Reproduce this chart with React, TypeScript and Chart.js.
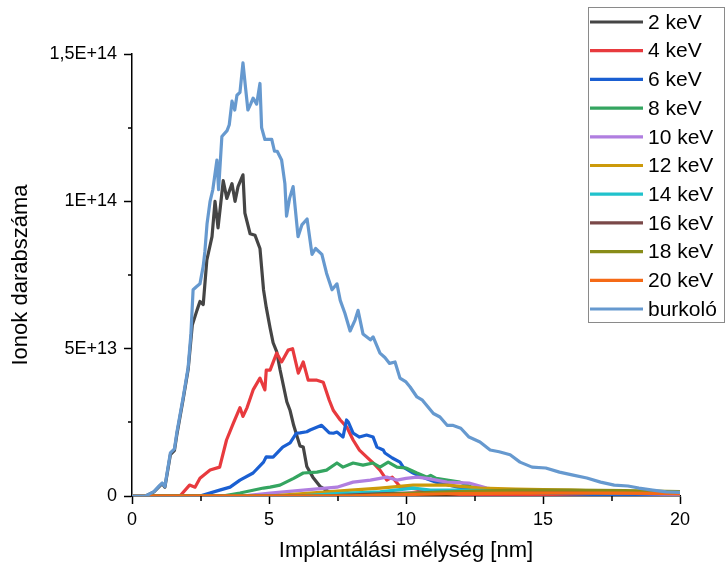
import React, { useEffect, useRef } from 'react';
import { Chart, registerables } from 'chart.js';

Chart.register(...registerables);

// ---- data (y in units of 1E+12 ions) ----
const seriesLabels = ['2 keV', '4 keV', '6 keV', '8 keV', '10 keV', '12 keV', '14 keV', '16 keV', '18 keV', '20 keV', 'burkoló'];
const seriesColors = ['#454545', '#E83A3E', '#1A5FD2', '#34A560', '#B07EE0', '#CC9A0A', '#20C2CC', '#7A4848', '#888C18', '#F56A16', '#6699CF'];

const x2 = [0, 0.5, 0.8, 1.0, 1.1, 1.2, 1.4, 1.55, 1.64, 1.87, 2.05, 2.2, 2.37, 2.48, 2.6, 2.73, 2.92, 3.03, 3.14, 3.33, 3.46, 3.65, 3.76, 3.87, 4.05, 4.12, 4.31, 4.49, 4.67, 4.8, 4.9, 5.04, 5.15, 5.28, 5.4, 5.65, 5.77, 5.9, 6.13, 6.25, 6.38, 6.6, 6.86, 7.2, 7.5, 8.0];
const y2 = [0, 0, 1.4, 3.3, 4.2, 3.0, 14, 15.5, 21, 33, 43, 58, 63, 66, 65, 80, 88, 100, 91, 107, 101, 106, 100, 105, 109, 96, 89, 88.5, 84, 70, 64, 57, 52, 49, 43, 32, 29, 24, 17, 16.6, 10, 6.4, 3.3, 1.3, 0.5, 0.2];

const x4 = [0, 1.75, 2.1, 2.3, 2.48, 2.85, 3.2, 3.45, 3.7, 3.94, 4.05, 4.2, 4.42, 4.67, 4.85, 4.9, 5.04, 5.28, 5.46, 5.7, 5.86, 6.07, 6.25, 6.43, 6.75, 6.98, 7.2, 7.35, 7.6, 7.84, 8.07, 8.3, 8.57, 8.8, 9.05, 9.3, 9.5, 9.8, 10.3, 11.0, 12.0, 14.0, 20];
const y4 = [0, 0, 3.7, 3.0, 6, 8.8, 9.8, 19, 24.7, 30, 27, 30, 36, 40, 36, 42.7, 42.7, 48.5, 45.5, 49.5, 50, 41.7, 45.5, 39.3, 39.3, 38.6, 32.5, 29, 25.8, 23.4, 19, 15.6, 13.2, 11.2, 8.8, 5.4, 6.4, 3, 2.5, 1.2, 0.5, 0.2, 0];

const x6 = [0, 2.48, 3.2, 3.58, 3.94, 4.42, 4.8, 4.9, 5.15, 5.5, 5.77, 6.0, 6.13, 6.38, 6.5, 6.92, 7.2, 7.35, 7.48, 7.7, 7.83, 7.9, 8.07, 8.3, 8.56, 8.8, 8.94, 9.17, 9.23, 9.5, 9.78, 9.9, 10.26, 10.6, 11.1, 11.9, 13.0, 15.0, 17.0, 20];
const y6 = [0, 0, 2, 3, 5.4, 7.8, 11.5, 13.3, 13.2, 16.6, 18, 21.3, 21.4, 21.8, 22.4, 24, 21.4, 21.3, 21.7, 20, 25.8, 25, 21.3, 20, 20.7, 20, 16.6, 15.6, 14.6, 12.9, 11.5, 9.8, 7.8, 6.4, 4.7, 3, 2, 1, 0.5, 0.3];

const x8 = [0, 3.3, 3.94, 4.8, 5.04, 5.4, 5.77, 5.9, 6.25, 6.75, 7.1, 7.48, 7.7, 8.07, 8.43, 8.8, 9.05, 9.35, 9.67, 10.0, 10.4, 10.77, 10.9, 11.1, 11.5, 11.97, 12.4, 13.3, 14.5, 16.0, 18.0, 20];
const y8 = [0, 0, 1, 2.7, 3, 3.7, 5.4, 6, 7.8, 8.1, 8.8, 11.2, 9.8, 11.2, 10.5, 11.2, 9.8, 11.5, 9.8, 9.5, 7.8, 6.4, 7.0, 6, 5.4, 4.7, 3, 2, 1.5, 1.2, 1, 0.8];

const x10 = [0, 4.0, 5.04, 6.25, 7.48, 8.07, 8.7, 9.3, 9.67, 10.0, 10.4, 10.77, 11.5, 12.3, 12.95, 13.4, 16.0, 18.0, 20];
const y10 = [0, 0, 1, 2, 3, 4.7, 5.4, 6.4, 5.4, 6, 6.4, 6, 4.7, 4.4, 2.7, 2, 1.5, 1, 0.5];

const x12 = [0, 5.0, 6.5, 8.0, 9.05, 10.26, 11.5, 12.7, 14.0, 16.0, 18.0, 20];
const y12 = [0, 0, 1, 2, 2.7, 3.7, 3.7, 2.7, 2.3, 2, 1.4, 1];

const x14 = [0, 6.0, 7.5, 9.05, 10.26, 10.9, 12.0, 13.0, 15.0, 17.0, 20];
const y14 = [0, 0, 0.8, 1.4, 2.7, 2, 2, 1.8, 1.5, 1.2, 1];

const x16 = [0, 7.0, 9.0, 11.0, 13.0, 15.0, 17.0, 20];
const y16 = [0, 0, 0.7, 1.2, 1.5, 1.5, 1.2, 0.8];

const x18 = [0, 8.0, 10.0, 12.0, 14.0, 16.0, 18.0, 20];
const y18 = [0, 0, 0.8, 1.5, 2, 2, 1.8, 1.5];

const x20 = [0, 8.0, 10.0, 12.0, 14.0, 16.0, 18.0, 20];
const y20 = [0, 0, 0.5, 0.8, 1, 1, 1, 0.8];

const xEnv = [0, 0.5, 0.8, 1.0, 1.1, 1.2, 1.4, 1.55, 1.64, 1.87, 2.05, 2.15, 2.23, 2.35, 2.48, 2.6, 2.66, 2.74, 2.85, 2.95, 3.1, 3.16, 3.28, 3.47, 3.55, 3.65, 3.75, 3.83, 3.94, 4.05, 4.15, 4.23, 4.33, 4.42, 4.55, 4.67, 4.73, 4.85, 5.1, 5.2, 5.3, 5.46, 5.58, 5.64, 5.75, 5.88, 6.06, 6.2, 6.39, 6.57, 6.7, 6.93, 7.1, 7.3, 7.48, 7.6, 7.77, 7.96, 8.14, 8.25, 8.43, 8.7, 8.8, 9.05, 9.23, 9.4, 9.6, 9.78, 10.0, 10.15, 10.4, 10.6, 11.0, 11.24, 11.5, 11.7, 12.0, 12.3, 12.7, 13.07, 13.4, 13.8, 14.16, 14.6, 15.1, 15.6, 16.1, 16.6, 17.1, 17.6, 18.1, 18.5, 19.0, 19.5, 20];
const yEnv = [0, 0, 1.5, 3.5, 4.4, 3.2, 14.6, 16, 21.7, 33.6, 43.7, 55, 70, 71, 72, 78, 83, 92.5, 100, 104, 114, 104, 122, 124, 126, 134, 131, 136, 137, 147, 138, 131, 133, 135, 133, 140, 125, 121, 121, 117, 117, 114, 106, 95, 101, 105, 88, 92, 94, 82, 84, 82, 75.6, 70, 72, 66.4, 62, 56, 59.7, 63, 55, 53, 54, 48.5, 47, 45, 45.5, 40, 38.7, 37, 33.6, 32.5, 28, 26.8, 24, 24, 23, 20, 18.3, 15.6, 15, 14, 11.5, 9.8, 9.5, 8.1, 7.1, 6.1, 4.7, 3.7, 3.4, 2.7, 2, 1.4, 1.2];

const seriesX = [x2, x4, x6, x8, x10, x12, x14, x16, x18, x20, xEnv];
const seriesY = [y2, y4, y6, y8, y10, y12, y14, y16, y18, y20, yEnv];

// axis ticks
const xTickValues = [0, 5, 10, 15, 20];
const xMinorTicks = [2.5, 7.5, 12.5, 17.5];
const yTickValues = [0, 50, 100, 150];
const yTickLabels = ['0', '5E+13', '1E+14', '1,5E+14'];
const yMinorTicks = [25, 75, 125];

const xTitle = 'Implantálási mélység [nm]';
const yTitle = 'Ionok darabszáma';

const FONT = '"Liberation Sans", Arial, Helvetica, sans-serif';

const minorTickPlugin = {
  id: 'minorTicks',
  afterDraw(chart: any) {
    const { ctx, scales } = chart;
    const xs = scales.x;
    const ys = scales.y;
    ctx.save();
    ctx.strokeStyle = '#000';
    ctx.lineWidth = 1.5;
    ctx.beginPath();
    xMinorTicks.forEach((v) => {
      const px = Math.round(xs.getPixelForValue(v));
      ctx.moveTo(px, xs.top);
      ctx.lineTo(px, xs.top + 5);
    });
    yMinorTicks.forEach((v) => {
      const py = Math.round(ys.getPixelForValue(v));
      ctx.moveTo(ys.right - 4, py);
      ctx.lineTo(ys.right, py);
    });
    ctx.stroke();
    ctx.restore();
  },
};

const boxLegendPlugin = {
  id: 'boxLegend',
  afterDraw(chart: any) {
    const ctx = chart.ctx;
    const left = 588;
    const top = 7;
    const w = 137;
    const h = 316;
    ctx.save();
    ctx.fillStyle = '#ffffff';
    ctx.fillRect(left, top, w, h);
    ctx.strokeStyle = '#8a8a8a';
    ctx.lineWidth = 1;
    ctx.strokeRect(left + 0.5, top + 0.5, w - 1, h - 1);
    ctx.font = `21px ${FONT}`;
    ctx.textBaseline = 'middle';
    ctx.textAlign = 'left';
    seriesLabels.forEach((lab, i) => {
      const y = 22 + i * 28.7;
      ctx.strokeStyle = seriesColors[i];
      ctx.lineWidth = 3.2;
      ctx.beginPath();
      ctx.moveTo(590, y);
      ctx.lineTo(643, y);
      ctx.stroke();
      ctx.fillStyle = '#000';
      ctx.fillText(lab, 648, y + 1);
    });
    ctx.restore();
  },
};

export default function App() {
  const canvasRef = useRef<HTMLCanvasElement | null>(null);

  useEffect(() => {
    if (!canvasRef.current) return;
    Chart.defaults.font.family = FONT;
    const datasets = seriesLabels.map((label, i) => ({
      label,
      data: seriesX[i].map((x, j) => ({ x, y: seriesY[i][j] })),
      borderColor: seriesColors[i],
      backgroundColor: seriesColors[i],
      borderWidth: 3.2,
      pointRadius: 0,
      tension: 0,
      fill: false,
      borderJoinStyle: 'round' as const,
      order: i === seriesLabels.length - 1 ? 0 : seriesLabels.length - i,
    }));

    const chart = new Chart(canvasRef.current, {
      type: 'line',
      data: { datasets },
      plugins: [minorTickPlugin, boxLegendPlugin],
      options: {
        animation: false,
        responsive: true,
        maintainAspectRatio: false,
        layout: { padding: { top: 54, right: 46, left: 0, bottom: 0 } },
        plugins: {
          legend: { display: false },
          tooltip: { enabled: false },
        },
        scales: {
          x: {
            type: 'linear',
            min: 0,
            max: 20,
            afterFit: (s: any) => {
              s.height = 72;
            },
            afterBuildTicks: (s: any) => {
              s.ticks = xTickValues.map((v) => ({ value: v }));
            },
            ticks: {
              color: '#000',
              font: { size: 18 },
              padding: 5,
              maxRotation: 0,
              callback: (v: any) => String(v),
            },
            grid: {
              display: true,
              drawOnChartArea: false,
              drawTicks: true,
              tickLength: 8,
              tickColor: '#000',
              tickWidth: 1.5,
            },
            border: { display: true, color: '#000', width: 1.5 },
            title: {
              display: true,
              text: xTitle,
              color: '#000',
              font: { size: 22 },
              padding: { top: 0, bottom: 4 },
            },
          },
          y: {
            type: 'linear',
            min: 0,
            max: 150,
            afterFit: (s: any) => {
              s.width = 132;
            },
            afterBuildTicks: (s: any) => {
              s.ticks = yTickValues.map((v) => ({ value: v }));
            },
            ticks: {
              color: '#000',
              font: { size: 18 },
              padding: 7,
              callback: (v: any) => {
                const idx = yTickValues.indexOf(Number(v));
                return idx >= 0 ? yTickLabels[idx] : '';
              },
            },
            grid: {
              display: true,
              drawOnChartArea: false,
              drawTicks: true,
              tickLength: 8,
              tickColor: '#000',
              tickWidth: 1.5,
            },
            border: { display: true, color: '#000', width: 1.5 },
            title: {
              display: true,
              text: yTitle,
              color: '#000',
              font: { size: 22 },
              padding: { top: 8, bottom: 0 },
            },
          },
        },
      },
    });
    return () => chart.destroy();
  }, []);

  return (
    <div style={{ position: 'absolute', left: 0, top: 0, width: 726, height: 568, background: '#fff' }}>
      <canvas ref={canvasRef} />
    </div>
  );
}
